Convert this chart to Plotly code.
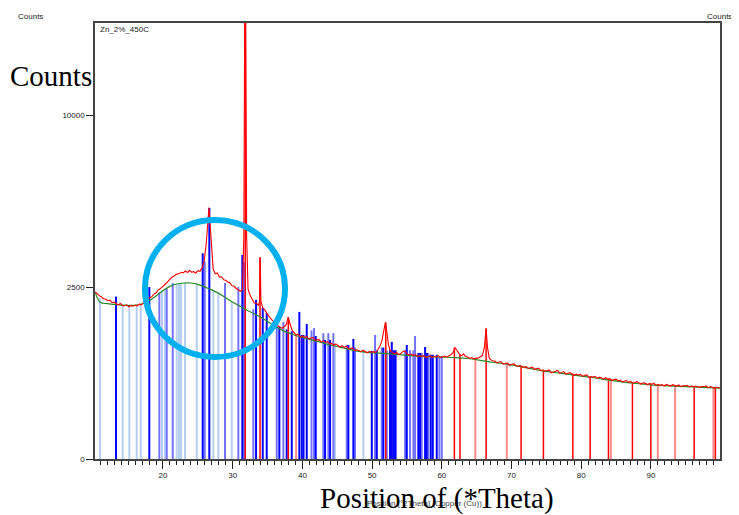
import math
import plotly.graph_objects as go

# ---------------- data ----------------
red_x = [10.3,10.6,10.9,11.2,11.5,11.8,12.1,12.4,12.7,13.0,13.3,13.6,13.9,14.2,14.5,14.8,15.1,15.4,15.7,16.0,
         16.3,16.6,16.9,17.2,17.5,17.8,18.1,18.4,18.7,19.0,19.3,19.6,19.9,20.2,20.5,20.8,21.1,21.4,21.7,22.0,
         22.3,22.6,22.9,23.2,23.5,23.8,24.1,24.4,24.7,25.0,25.3,25.6,25.9,26.2,26.45,26.6,26.75,26.95,27.2,27.5,
         27.8,28.1,28.4,28.7,29.0,29.3,29.6,29.9,30.2,30.5,30.8,31.1,31.4,31.6,31.75,31.85,32.0,32.2,32.5,32.8,
         33.1,33.4,33.7,33.85,33.95,34.05,34.3,34.6,34.9,35.2,35.5,35.8,36.1,36.3,36.5,36.8,37.1,37.4,37.7,37.95,
         38.2,38.5,38.8,39.1,39.4,39.7,40.0,40.3,40.6,40.9,41.2,41.5,41.8,42.1,42.4,42.7,43.0,43.3,43.6,43.9,
         44.2,44.5,44.8,45.1,45.4,45.7,46.0,46.3,46.6,46.9,47.2,47.5,47.8,48.1,48.4,48.7,49.0,49.3,49.6,49.9,
         50.2,50.5,50.8,51.1,51.4,51.7,51.9,52.1,52.35,52.6,52.9,53.2,53.5,53.8,54.1,54.4,54.7,55.0,55.3,55.6,
         55.9,56.2,56.5,56.8,57.1,57.4,57.7,58.0,58.3,58.6,58.9,59.2,59.5,59.8,60.1,60.4,60.7,61.0,61.3,61.6,
         61.9,62.2,62.5,62.8,63.1,63.4,63.7,64.0,64.3,64.6,64.9,65.2,65.5,65.8,66.1,66.35,66.55,66.8,67.0,67.3,
         67.6,67.9,68.2,68.5,68.8,69.1,69.4,69.7,70.0,70.3,70.6,70.9,71.2,71.5,71.8,72.1,72.4,72.7,73.0,73.3,
         73.6,73.9,74.2,74.5,74.8,75.1,75.4,75.7,76.0,76.3,76.6,76.9,77.2,77.5,77.8,78.1,78.4,78.7,79.0,79.3,
         79.6,79.9,80.2,80.5,80.8,81.1,81.4,81.7,82.0,82.3,82.6,82.9,83.2,83.5,83.8,84.1,84.4,84.7,85.0,85.3,
         85.6,85.9,86.2,86.5,86.8,87.1,87.4,87.7,88.0,88.3,88.6,88.9,89.2,89.5,89.8,90.1,90.4,90.7,91.0,91.3,
         91.6,91.9,92.2,92.5,92.8,93.1,93.4,93.7,94.0,94.3,94.6,94.9,95.2,95.5,95.8,96.1,96.4,96.7,97.0,97.3,
         97.6,97.9,98.2,98.5,98.8,99.1,99.4,99.7,99.9]
red_counts = [2360,2290,2250,2220,2170,2160,2120,2135,2070,2080,2050,2010,2045,1990,1985,2010,1960,1990,1975,2005,
              1985,2030,2010,2060,2110,2140,2200,2230,2300,2330,2420,2450,2520,2560,2620,2700,2760,2810,2860,2890,
              2900,2950,2930,2990,2940,3010,2950,2970,2920,3000,2980,3080,3300,3900,4800,5350,4700,3700,3050,2900,
              2930,2800,2810,2720,2700,2650,2620,2540,2530,2460,2430,2380,2430,4200,20000,20000,4200,2450,2260,2140,
              2060,2050,2000,2100,3400,2100,1940,1880,1790,1720,1660,1600,1550,1600,1500,1470,1445,1480,1530,1700,
              1560,1410,1350,1300,1320,1255,1280,1250,1270,1220,1235,1250,1195,1200,1205,1155,1180,1150,1165,1125,
              1130,1095,1120,1090,1060,1085,1055,1075,1030,1035,1040,995,1010,995,975,1000,975,955,980,963,
              975,960,1010,1070,1180,1450,1580,1380,1100,990,955,935,960,925,940,975,990,935,915,930,
              905,922,889,906,888,905,872,890,903,872,891,880,900,870,885,896,877,895,920,955,
              1050,990,930,900,935,890,880,855,870,845,862,860,880,905,1050,1440,1050,860,835,815,
              810,780,795,800,760,770,780,740,760,770,740,725,740,725,707,725,690,705,715,680,
              688,697,657,672,652,667,672,627,638,650,662,623,635,647,608,620,631,608,593,609,
              595,606,577,593,599,560,576,567,578,550,566,557,538,559,540,546,522,533,539,516,
              527,503,514,520,497,509,486,498,505,487,475,492,484,466,484,472,485,458,471,459,
              467,451,470,459,448,467,461,450,464,443,457,451,460,439,453,442,451,445,434,448,
              442,451,430,444,437,425,438,426,430]

bg_x = [10.3,11,12,13,14,15,16,17,18,19,20,21,22,23,24,25,26,27,28,29,30,31,32,33,34,35,36,37,38,39,40,
        42,44,46,48,50,52,54,56,58,60,62,64,66,68,70,72,74,76,78,80,82,84,86,88,90,92,94,96,98,99.9]
bg_counts = [2330,2080,2040,2020,2005,1995,2000,2040,2120,2250,2400,2520,2590,2620,2620,2580,2500,2420,2320,2200,
             2080,1980,1880,1790,1700,1600,1500,1410,1345,1290,1250,1175,1100,1040,980,955,940,920,900,885,
             878,870,850,815,780,748,705,665,635,608,580,555,525,500,482,465,455,447,440,432,425]

dark_blue_pos = [13.26,18.04,25.70,26.65,31.38,33.35,34.31,34.88,36.69,37.75,38.47,39.56,39.91,40.16,40.62,
                 41.91,43.25,43.97,46.59,47.31,49.95,50.67,51.61,52.57,52.82,53.05,53.29,54.97,56.63,56.88,
                 57.60,57.84,58.41,58.70,59.27]
dark_blue_h = [2230,2500,3580,5330,3520,2140,1930,1800,1480,1420,1380,1830,1300,1300,1540,
               1280,1200,1200,1100,1220,990,1000,1050,1000,1160,1000,1000,1100,950,950,
               1060,950,920,920,920]

mid_blue_pos = [19.48,20.54,21.40,25.99,28.90,30.81,31.63,32.96,36.32,37.27,41.31,41.67,43.00,43.72,44.44,
                46.36,47.55,50.42,51.38,52.10,53.44,54.73,55.44,55.92,56.16,57.12,58.07,59.65,59.99]
mid_blue_h = [2350,2450,2620,3300,2620,2500,3280,1900,1500,1590,1400,1450,1340,1340,1340,
              1100,1050,1300,1050,1000,1000,1000,1000,1000,1280,950,950,900,900]

light_blue_pos = [10.97,14.22,15.17,16.23,16.81,19.86,20.29,21.97,22.30,22.59,23.16,24.84,27.22,27.94,29.86,
                  44.68,48.74]
light_blue_h = [2190,2000,1990,1995,2030,2400,2450,2580,2600,2610,2620,2600,2420,2330,2100,
                1100,1000]

red_stick_pos = [31.80,33.92,37.98,51.96,61.80,62.60,66.35,71.37,74.57,78.79,81.27,83.90,87.34,89.98,96.19,99.24]
red_stick_h = [20000,3450,1700,1580,1050,930,1440,720,660,620,575,545,495,470,440,425]

light_red_pos = [39.10,64.80,69.32,84.24,90.98,93.46,98.96]
light_red_h = [1290,860,765,540,460,450,428]

y_tick_counts = [0, 2500, 10000]
x_tick_vals = [20, 30, 40, 50, 60, 70, 80, 90]

# ---------------- helpers ----------------
def sq(v):
    return [math.sqrt(c) for c in v]

def sticks(pos, h):
    xs, ys = [], []
    for p, c in zip(pos, h):
        xs += [p, p, None]
        ys += [0, math.sqrt(c), None]
    return xs, ys

fig = go.Figure()

for pos, h, col, w in [
    (light_blue_pos, light_blue_h, "#b6cff0", 2),
    (light_red_pos, light_red_h, "#ff8a8a", 2),
    (mid_blue_pos, mid_blue_h, "#7272ff", 2),
    (dark_blue_pos, dark_blue_h, "#0000ff", 2),
    (red_stick_pos, red_stick_h, "#ff0000", 1.5),
]:
    xs, ys = sticks(pos, h)
    fig.add_trace(go.Scatter(x=xs, y=ys, mode="lines", line=dict(color=col, width=w),
                             hoverinfo="skip", showlegend=False))

fig.add_trace(go.Scatter(x=bg_x, y=sq(bg_counts), mode="lines", line=dict(color="#2a8a2a", width=1.2, shape="spline"),
                         showlegend=False))
fig.add_trace(go.Scatter(x=red_x, y=sq(red_counts), mode="lines", line=dict(color="#ff0000", width=1.1),
                         showlegend=False))

# page body adds an 8px offset, so figure coordinates are shifted by 8
OFF = 8
FW, FH = 739 - OFF, 515 - OFF
L, R, T, B = 95 - OFF, 720 - OFF, 23 - OFF, 459 - OFF
PW, PH = R - L, B - T

def px(xp):
    return (xp - OFF - L) / PW

def py(yp):
    return (B - (yp - OFF)) / PH

fig.update_layout(
    width=FW, height=FH, autosize=False,
    margin=dict(l=L, r=FW - R, t=T, b=FH - B),
    paper_bgcolor="white", plot_bgcolor="white",
    font=dict(family="Liberation Sans, Arial, sans-serif", size=8, color="#222"),
    xaxis=dict(range=[10.25, 99.9], tickvals=x_tick_vals, ticks="outside", ticklen=8, tickwidth=1,
               tickcolor="#222", showline=True, linecolor="#444", linewidth=1.5, mirror=True,
               showgrid=False, zeroline=False, tickfont=dict(size=8),
               minor=dict(dtick=1, tick0=0, ticks="outside", ticklen=4, tickcolor="#222", showgrid=False)),
    yaxis=dict(range=[0, 126.8], tickvals=sq(y_tick_counts), ticktext=[str(v) for v in y_tick_counts],
               ticks="outside", ticklen=7, tickwidth=1.2, tickcolor="#222", showline=True, linecolor="#444",
               linewidth=1.5, mirror=True, showgrid=False, zeroline=False, tickfont=dict(size=8)),
    shapes=[dict(type="circle", xref="paper", yref="paper",
                 x0=px(145), x1=px(285), y0=py(357), y1=py(220),
                 line=dict(color="#00b0f0", width=6))],
)

serif = "Liberation Serif, Times New Roman, serif"
ann = [
    dict(text="Counts", x=px(30), y=py(17), xanchor="center", font=dict(size=8, color="#222")),
    dict(text="Counts", x=px(705), y=py(17), xanchor="left", font=dict(size=8, color="#222")),
    dict(text="Zn_2%_450C", x=px(124), y=py(29), xanchor="center", font=dict(size=8, color="#222")),
    dict(text="Position [°2Theta] (Copper (Cu))", x=px(424), y=py(503), xanchor="center",
         font=dict(size=8, color="#444")),
    dict(text="Counts", x=px(51), y=py(76), xanchor="center", font=dict(size=29, family=serif, color="black")),
    dict(text="Position of (*Theta)", x=px(437), y=py(499), xanchor="center",
         font=dict(size=29, family=serif, color="black")),
]
for a in ann:
    fig.add_annotation(xref="paper", yref="paper", showarrow=False, yanchor="middle", **a)

fig.write_html("out.html")
